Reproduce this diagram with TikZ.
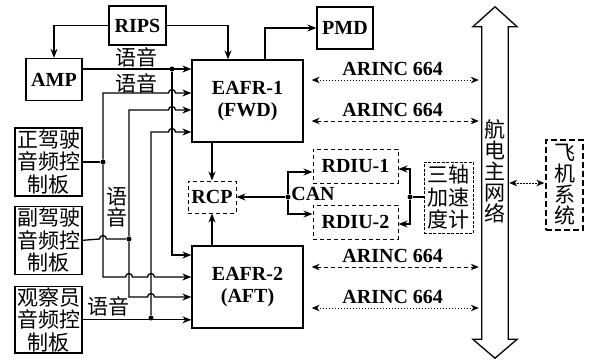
\documentclass[tikz,border=0pt]{standalone}
\usepackage{fontspec}
\setmainfont{Liberation Serif}
\newfontfamily\zhfont{Noto Sans CJK SC}
\usepackage{tikz}
\usetikzlibrary{arrows.meta, positioning, calc}
\newcommand\zhtxt{\zhfont\fontsize{21}{22.5}\selectfont}
\newcommand\zhcol{\zhfont\fontsize{21}{21}\selectfont}
\tikzset{every node/.append style={align=center}}
\tikzset{
  blk/.style={rectangle, draw, line width=1.3pt, inner sep=2pt,
    font=\fontsize{20}{22}\selectfont\bfseries},
  unit/.style={blk, minimum width=111pt, minimum height=82pt},
  panel/.style={rectangle, draw, line width=1.3pt, inner sep=1pt,
    minimum width=67pt, minimum height=68pt, font=\zhtxt},
  dbox/.style={blk, line width=1pt, dash pattern=on 4pt off 3pt},
  accbox/.style={rectangle, draw, line width=1pt, dash pattern=on 3pt off 1.5pt,
    inner sep=1pt, minimum width=49pt, minimum height=71pt, font=\zhtxt},
  sysbox/.style={rectangle, draw, line width=1.3pt, dash pattern=on 6pt off 3pt,
    inner sep=1pt, minimum width=37pt, minimum height=90pt, font=\zhcol},
  dot/.style={circle, fill, inner sep=0pt, minimum size=5pt},
  wire/.style={line width=1.3pt},
  sig/.style={wire, -{Stealth[length=9pt, width=7pt]}},
  arinc/.style={line width=1pt, {Stealth[length=8pt, width=6.5pt]}-{Stealth[length=8pt, width=6.5pt]},
    shorten <=8pt, shorten >=3pt},
  fine/.style={dash pattern=on 1.5pt off 1.5pt},
  coarse/.style={dash pattern=on 4pt off 3pt},
  alab/.style={midway, above=4pt, inner sep=0pt, font=\fontsize{20}{22}\selectfont\bfseries},
  lbl/.style={inner sep=0pt, font=\zhtxt},
  hop/.style 2 args={insert path={-- (#1-3.5,#2) arc[start angle=180, end angle=0, radius=3.5pt]}}
}
\begin{document}
\begin{tikzpicture}[x=1pt, y=-1pt]
  \useasboundingbox (0,0) rectangle (591,360);
  % units
  \node[blk, minimum width=57pt, minimum height=39pt] (rips) at (137.5,25.5) {RIPS};
  \node[blk, minimum width=56pt, minimum height=42pt] (amp) at (54,79.5) {AMP};
  \node[blk, minimum width=56pt, minimum height=42pt] (pmd) at (345,28) {PMD};
  \node[unit] (eafr1) at (247.5,101) {EAFR-1\\(FWD)};
  \node[unit] (eafr2) at (247.5,287) {EAFR-2\\(AFT)};
  \node[panel] (p1) at (48.5,162) {正驾驶\\音频控\\制板};
  \node[panel, below=9pt of p1] (p2) {副驾驶\\音频控\\制板};
  \node[panel, minimum height=66pt, below=11pt of p2] (p3) {观察员\\音频控\\制板};
  \node[dbox, minimum width=48pt, minimum height=32pt] (rcp) at (212,197) {RCP};
  \node[dbox, minimum width=85pt, minimum height=34pt] (rdiu1) at (355.5,166) {RDIU-1};
  \node[dbox, minimum width=85pt, minimum height=34pt, below=21pt of rdiu1] (rdiu2) {RDIU-2};
  \node[accbox] (acc) at (448.5,197.5) {三轴\\加速\\度计};
  \node[sysbox] (sys) at (564.5,185) {飞\\机\\系\\统};
  % avionics bus
  \node[minimum width=26pt, minimum height=312pt, inner sep=0pt] (bus) at (495,183) {};
  \draw[wire] (bus.north west) -- ([xshift=-9pt]bus.north west) -- ([yshift=20pt]bus.north)
    -- ([xshift=9pt]bus.north east) -- (bus.north east) -- (bus.south east)
    -- ([xshift=9pt]bus.south east) -- ([yshift=-19pt]bus.south)
    -- ([xshift=-9pt]bus.south west) -- (bus.south west) -- cycle;
  \node[inner sep=0pt, font=\zhcol] (bustxt) at (495,171) {航\\电\\主\\网\\络};
  % junctions
  \node[dot] (j1) at (103,162) {};
  \node[dot] (j2) at (129,239) {};
  \node[dot] (j3) at (151,318) {};
  \node[dot] (j4) at (172,69) {};
  \node[dot] (jc) at (288,197) {};
  \node[dot] (ja) at (410,197) {};
  % RIPS, PMD
  \draw[sig] (rips.west) -| (amp.north);
  \draw[sig] (rips.east) -| ([xshift=-19.5pt]eafr1.north);
  \draw[sig] ([xshift=17.5pt]eafr1.north) |- (pmd.west);
  % voice lines
  \draw[sig] (amp.east |- j4) -- (eafr1.west |- j4);
  \draw[sig] (j4) |- (eafr2.west |- 0,255);
  \draw[wire] (p1.east) -- (j1);
  \draw[sig] (j1) -- (103,93) [hop={172}{93}] -- (eafr1.west |- 0,93);
  \draw[sig] (j1) -- (103,277) [hop={129}{277}] [hop={151}{277}] -- (eafr2.west |- 0,277);
  \draw[wire] (p2.east) [hop={103}{239}] -- (j2);
  \draw[sig] (j2) -- (129,110) [hop={172}{110}] -- (eafr1.west |- 0,110);
  \draw[sig] (j2) -- (129,297) [hop={151}{297}] -- (eafr2.west |- 0,297);
  \draw[sig] (p3.east) -- (eafr2.west |- p3.east);
  \draw[sig] (j3) -- (151,132) [hop={172}{132}] -- (eafr1.west |- 0,132);
  \node[lbl] (v1) at (136,57) {语音};
  \node[lbl] (v2) at (136,83) {语音};
  \node[lbl, font=\zhcol] (v3) at (117,207) {语\\音};
  \node[lbl] (v4) at (108,306) {语音};
  % RCP and CAN
  \draw[sig] (eafr1.south -| rcp.north) -- (rcp.north);
  \draw[sig] (eafr2.north -| rcp.south) -- (rcp.south);
  \draw[sig] (jc) -- (rcp.east);
  \draw[sig] (jc) |- ([yshift=-6pt]rdiu1.west);
  \draw[sig] (jc) |- ([yshift=8pt]rdiu2.west);
  \node[inner sep=0pt, font=\fontsize{20}{22}\selectfont\bfseries] (can) at (313,194) {CAN};
  \draw[wire] (acc.west |- ja) -- (ja);
  \draw[sig] (ja) |- ([yshift=-3pt]rdiu1.east);
  \draw[sig] (ja) |- ([yshift=-2pt]rdiu2.east);
  % ARINC 664 links
  \draw[arinc, fine] (eafr1.east |- 0,80) -- (bus.west |- 0,80) node[alab] {ARINC 664};
  \draw[arinc, coarse] (eafr1.east |- 0,121) -- (bus.west |- 0,121) node[alab] {ARINC 664};
  \draw[arinc, coarse] (eafr2.east |- 0,267) -- (bus.west |- 0,267) node[alab] {ARINC 664};
  \draw[arinc, fine] (eafr2.east |- 0,308) -- (bus.west |- 0,308) node[alab] {ARINC 664};
  \draw[arinc, fine, shorten <=1pt, shorten >=1pt] (bus.east |- 0,183) -- (sys.west |- 0,183);
\end{tikzpicture}
\end{document}
